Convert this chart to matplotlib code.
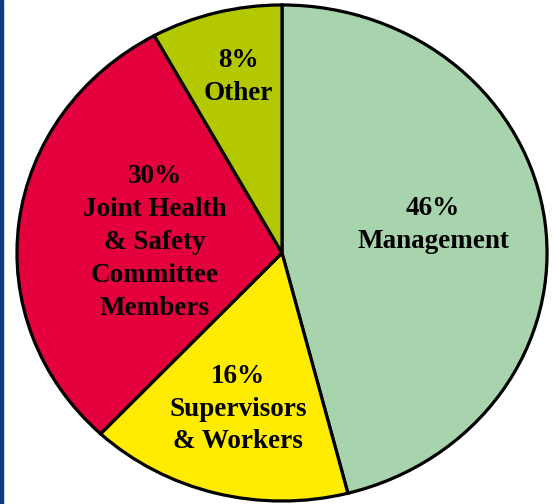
import matplotlib
matplotlib.use("Agg")
import matplotlib.pyplot as plt
from matplotlib.patches import Rectangle

# slices, clockwise from 12 o'clock
labels = ["Management", "Supervisors\n& Workers", "Joint Health\n& Safety\nCommittee\nMembers", "Other"]
values = [46, 16, 30, 8]
colors = ["#a8d4ad", "#ffec00", "#e3003d", "#b4c800"]

fig = plt.figure(figsize=(5.55, 5.04), dpi=100)
ax = fig.add_axes([0, 0, 1, 1])

wedges, _ = ax.pie(values, colors=colors, startangle=90, counterclock=False,
                   wedgeprops=dict(edgecolor="black", linewidth=2.3))

# the original pie is a bit squashed vertically
ax.set_aspect("auto")
ax.set_xlim(-1.064, 1.030)
ax.set_ylim(-1.012, 1.020)
ax.axis("off")

text_pos = [(0.570, 0.113), (-0.166, -0.629), (-0.479, 0.044), (-0.166, 0.710)]
for (x, y), lab, v in zip(text_pos, labels, values):
    ax.text(x, y, f"{v}%\n{lab}", ha="center", va="center", fontsize=19.5,
            fontweight="bold", family="Liberation Serif", linespacing=1.42)

fig.patches.append(Rectangle((0, 0), 3 / 555, 1, transform=fig.transFigure,
                             color="#0b3f7c", zorder=5))

fig.savefig("out.png", dpi=100)
